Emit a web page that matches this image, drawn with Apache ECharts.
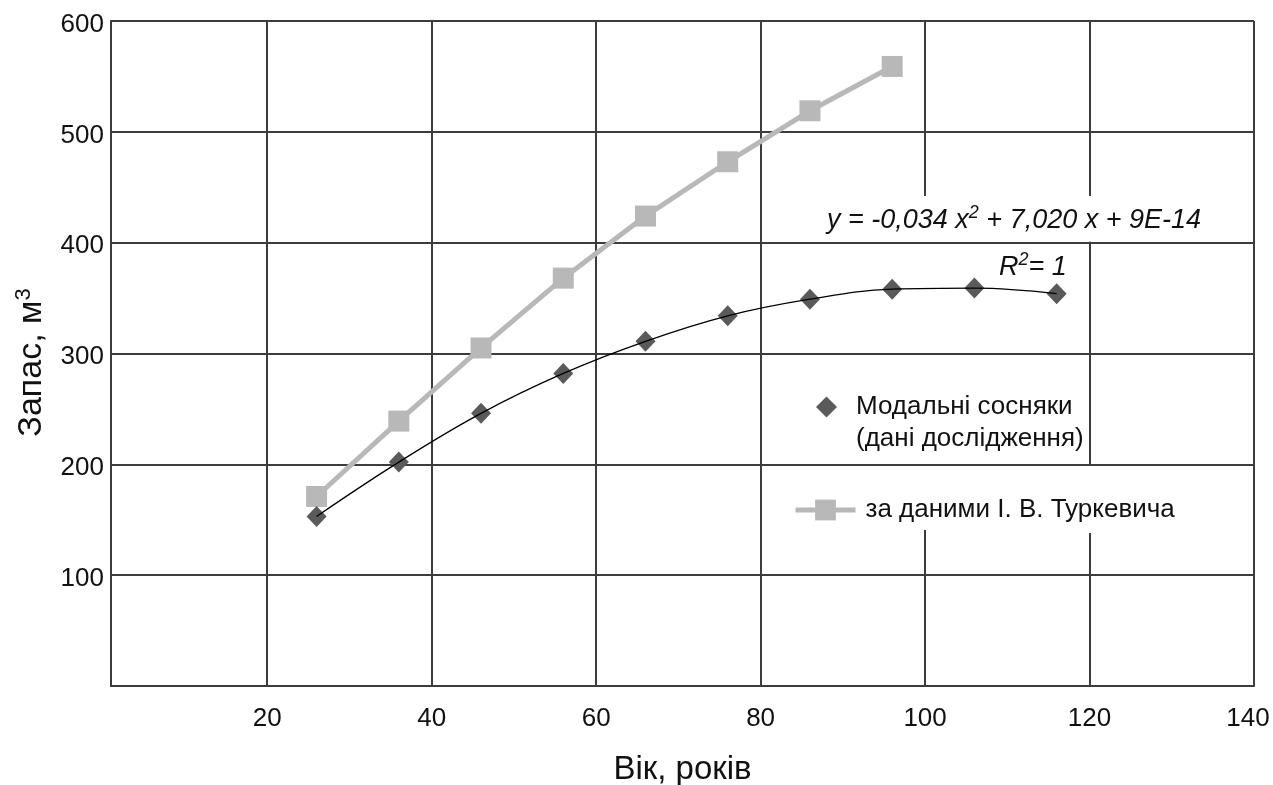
<!DOCTYPE html>
<html><head><meta charset="utf-8">
<script src="https://cdn.jsdelivr.net/npm/echarts@6/dist/echarts.min.js"></script>
<style>html,body{margin:0;padding:0;background:#fff}#c{width:1273px;height:785px}</style>
</head><body><div id="c"></div>
<script>
// ---- data ----
const ages = [26, 36, 46, 56, 66, 76, 86, 96, 106, 116];
const modalStock = [153, 202, 246, 282, 311, 334, 349, 358, 359, 354];
const turkAges = [26, 36, 46, 56, 66, 76, 86, 96];
const turkStock = [171, 239, 305, 368, 424, 473, 519, 559];
const xTicks = [20, 40, 60, 80, 100, 120, 140];
const yTicks = [100, 200, 300, 400, 500, 600];
const modalName = 'Модальні сосняки (дані дослідження)';
const modalLegendLabel = 'Модальні сосняки\n(дані дослідження)';
const turkName = 'за даними І. В. Туркевича';
const xTitle = 'Вік, років';
const yTitleMain = 'Запас, м';
const yTitleSup = '3';
const eqParts = ['y = -0,034 x', '2', ' + 7,020 x + 9E-14'];
const r2Parts = ['R', '2', '= 1'];

const FONT = '"Liberation Sans", Arial, sans-serif';
const gridColor = '#3c3c3c';

const modalData = ages.map((a, i) => [a, modalStock[i]]);
const turkData = turkAges.map((a, i) => [a, turkStock[i]]);

const supRich = {
  i: {fontSize: 27, fontStyle: 'italic', fontFamily: FONT, fill: '#111', lineHeight: 32},
  s: {fontSize: 18, fontStyle: 'italic', fontFamily: FONT, fill: '#111', verticalAlign: 'top', lineHeight: 32}
};

const chart = echarts.init(document.getElementById('c'), null, {renderer: 'canvas'});
const option = {
  animation: false,
  backgroundColor: '#fff',
  textStyle: {fontFamily: FONT},
  grid: {left: 111, right: 19, top: 21, bottom: 99, containLabel: false, outerBoundsMode: 'none'},
  xAxis: {
    type: 'value', min: 1, max: 140, z: 0,
    axisLine: {show: true, onZero: false, lineStyle: {color: '#3a3a3a', width: 2}},
    axisTick: {show: false, customValues: xTicks},
    axisLabel: {customValues: xTicks, fontSize: 26, color: '#111', margin: 20, fontFamily: FONT,
      formatter: v => (v === 140 ? '{e|140}' : String(v)),
      rich: {e: {fontSize: 26, color: '#111', fontFamily: FONT, padding: [0, 12, 0, 0]}}},
    splitLine: {show: true, lineStyle: {color: gridColor, width: 2}},
    name: xTitle, nameLocation: 'middle', nameGap: 67,
    nameTextStyle: {fontSize: 33, color: '#111', fontFamily: FONT}
  },
  yAxis: {
    type: 'value', min: 0, max: 600, interval: 100, z: 2,
    axisLine: {show: true, lineStyle: {color: '#3a3a3a', width: 2}},
    axisTick: {show: false},
    axisLabel: {fontSize: 26, color: '#111', margin: 7, fontFamily: FONT,
      formatter: v => (yTicks.indexOf(v) >= 0 ? '{a|' + v + '}' : ''),
      rich: {a: {fontSize: 26, color: '#111', fontFamily: FONT, padding: [7, 0, 0, 0]}}},
    splitLine: {show: true, lineStyle: {color: gridColor, width: 2}},
    name: '{n|' + yTitleMain + '}{s|' + yTitleSup + '}',
    nameLocation: 'middle', nameGap: 60, nameRotate: 90,
    nameTextStyle: {fontSize: 34, color: '#111', fontFamily: FONT, padding: [0, 18, 0, 0],
      rich: {n: {fontSize: 34, color: '#111', fontFamily: FONT, lineHeight: 38},
             s: {fontSize: 22, color: '#111', fontFamily: FONT, verticalAlign: 'top', lineHeight: 38}}}
  },
  legend: [
    {left: 816, top: 359, padding: 0, orient: 'vertical', data: [modalName],
     itemWidth: 21, itemHeight: 21, selectedMode: false,
     formatter: () => '\n' + modalLegendLabel,
     textStyle: {fontSize: 26, lineHeight: 32, color: '#111', fontFamily: FONT, padding: [0, 0, 0, 14]}},
    {left: 793, top: 495, padding: 0, orient: 'vertical', data: [turkName],
     itemWidth: 60, itemHeight: 26, selectedMode: false,
     lineStyle: {width: 5, color: '#b8b8b8'},
     textStyle: {fontSize: 26, lineHeight: 30, color: '#111', fontFamily: FONT, padding: [0, 0, 0, 5]}}
  ],
  series: [
    {type: 'line', name: turkName, data: turkData, z: 3,
     symbol: 'rect', symbolSize: 21, showAllSymbol: true,
     lineStyle: {color: '#b8b8b8', width: 5}, itemStyle: {color: '#b8b8b8'}},
    {type: 'scatter', name: modalName, data: modalData, z: 4,
     symbol: 'diamond', symbolSize: [20, 21], itemStyle: {color: '#5a5a5a', opacity: 1}},
    {type: 'line', name: 'trend', data: modalData, z: 5, silent: true,
     smooth: 0.4, symbol: 'none', lineStyle: {color: '#000', width: 1.3}}
  ]
};
chart.setOption(option);

// white boxes behind annotation/legend texts hide parts of the vertical grid lines
const x100 = chart.convertToPixel({xAxisIndex: 0}, 100);
const x120 = chart.convertToPixel({xAxisIndex: 0}, 120);
const y400 = chart.convertToPixel({yAxisIndex: 0}, 400);
const y200 = chart.convertToPixel({yAxisIndex: 0}, 200);
chart.setOption({
  graphic: [
    {type: 'rect', z: 1, shape: {x: x100 - 8, y: 196, width: 16, height: 334}, style: {fill: '#fff'}},
    {type: 'rect', z: 1, shape: {x: x120 - 8, y: 196, width: 16, height: y400 - 197}, style: {fill: '#fff'}},
    {type: 'rect', z: 1, shape: {x: x120 - 8, y: y200 + 1, width: 16, height: 532 - y200}, style: {fill: '#fff'}},
    {type: 'text', z: 10, left: 827, top: 204,
     style: {text: '{i|' + eqParts[0] + '}{s|' + eqParts[1] + '}{i|' + eqParts[2] + '}', rich: supRich}},
    {type: 'text', z: 10, left: 999, top: 251,
     style: {text: '{i|' + r2Parts[0] + '}{s|' + r2Parts[1] + '}{i|' + r2Parts[2] + '}', rich: supRich}}
  ]
});
</script>
</body></html>
